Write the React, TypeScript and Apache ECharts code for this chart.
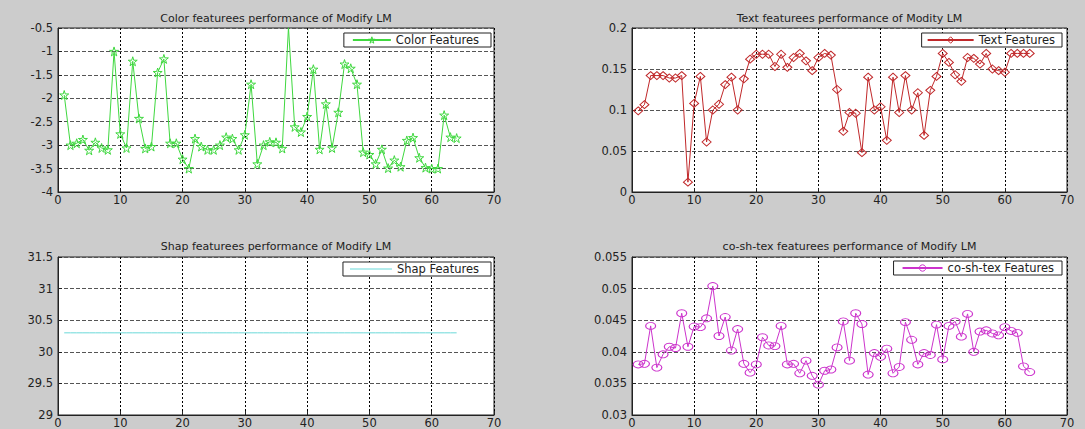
import React, { useEffect, useRef } from "react";
import * as echarts from "echarts";

const xTicks = { min: 0, max: 70, interval: 10 };

const colorFeatures = [
  -1.93, -3.0, -2.96, -2.88, -3.11, -2.94, -3.06, -3.1, -1.0, -2.76,
  -3.06, -1.21, -2.43, -3.07, -3.03, -1.45, -1.16, -2.96, -2.96, -3.3,
  -3.5, -2.86, -3.03, -3.1, -3.1, -3.0, -2.83, -2.86, -3.1, -2.78,
  -1.7, -3.4, -3.0, -2.93, -2.94, -3.07, -0.49, -2.61, -2.72, -2.39,
  -1.38, -3.09, -2.12, -3.06, -2.3, -1.27, -1.36, -1.7, -3.15, -3.2,
  -3.4, -3.09, -3.49, -3.32, -3.46, -2.9, -2.84, -3.27, -3.48, -3.5,
  -3.5, -2.36, -2.83, -2.85,
];

const textFeatures = [
  0.099, 0.1065, 0.142, 0.142, 0.142, 0.139, 0.139, 0.142, 0.012, 0.108,
  0.141, 0.061, 0.1, 0.107, 0.131, 0.14, 0.1, 0.138, 0.162, 0.168,
  0.168, 0.168, 0.153, 0.168, 0.152, 0.164, 0.169, 0.16, 0.148, 0.164,
  0.169, 0.167, 0.125, 0.074, 0.097, 0.096, 0.048, 0.14, 0.1, 0.104,
  0.063, 0.14, 0.097, 0.142, 0.1, 0.121, 0.069, 0.124, 0.141, 0.169,
  0.158, 0.143, 0.135, 0.164, 0.163, 0.156, 0.169, 0.15, 0.148, 0.146,
  0.169, 0.169, 0.169, 0.169,
];

const shapFeatures = [
  30.3, 30.3, 30.3, 30.3, 30.3, 30.3, 30.3, 30.3, 30.3, 30.3,
  30.3, 30.3, 30.3, 30.3, 30.3, 30.3, 30.3, 30.3, 30.3, 30.3,
  30.3, 30.3, 30.3, 30.3, 30.3, 30.3, 30.3, 30.3, 30.3, 30.3,
  30.3, 30.3, 30.3, 30.3, 30.3, 30.3, 30.3, 30.3, 30.3, 30.3,
  30.3, 30.3, 30.3, 30.3, 30.3, 30.3, 30.3, 30.3, 30.3, 30.3,
  30.3, 30.3, 30.3, 30.3, 30.3, 30.3, 30.3, 30.3, 30.3, 30.3,
  30.3, 30.3, 30.3, 30.3,
];

const coShTexFeatures = [
  0.038, 0.0381, 0.0441, 0.0375, 0.0396, 0.0408, 0.0406, 0.0461, 0.0408, 0.044,
  0.0439, 0.0453, 0.0504, 0.0425, 0.0455, 0.0402, 0.0436, 0.0381, 0.0367, 0.038,
  0.0423, 0.041, 0.0409, 0.0441, 0.038, 0.0381, 0.0366, 0.0386, 0.0362, 0.0348,
  0.037, 0.0372, 0.0407, 0.0448, 0.0386, 0.0461, 0.0444, 0.0364, 0.0398, 0.0392,
  0.0405, 0.0366, 0.0376, 0.0447, 0.0419, 0.038, 0.0398, 0.0395, 0.0443, 0.0388,
  0.0441, 0.0448, 0.0424, 0.046, 0.04, 0.0432, 0.0434, 0.0429, 0.0426, 0.0439,
  0.0433, 0.043, 0.0377, 0.0368,
];

const titles = [
  "Color featurees performance of Modify LM",
  "Text featurees performance of Modity LM",
  "Shap featurees performance of Modify LM",
  "co-sh-tex featurees performance of Modify LM",
];
const names = ["Color Features", "Text Features", "Shap Features", "co-sh-tex Features"];
const yRanges = [
  { min: -4, max: -0.5, interval: 0.5 },
  { min: 0, max: 0.2, interval: 0.05 },
  { min: 29, max: 31.5, interval: 0.5 },
  { min: 0.03, max: 0.055, interval: 0.005 },
];

const FONT = "DejaVu Sans, Liberation Sans, Arial, sans-serif";
const STAR = "path://M50,0 L61,35 L98,35 L68,57 L79,91 L50,70 L21,91 L32,57 L2,35 L39,35 Z";

const grids = [
  { left: 58, top: 28, width: 436, height: 164 },
  { left: 632, top: 28, width: 435, height: 164 },
  { left: 58, top: 257, width: 436, height: 162 },
  { left: 632, top: 257, width: 435, height: 162 },
];

const fmt = (v: number) => String(parseFloat(v.toFixed(4)));

export default function App() {
  const ref = useRef<HTMLDivElement>(null);
  useEffect(() => {
    if (!ref.current) return;
    const chart = echarts.init(ref.current, undefined, { renderer: "svg" });
    const seriesData = [colorFeatures, textFeatures, shapFeatures, coShTexFeatures];
    const colors = ["#3fd83f", "#c0282a", "#6ad9d9", "#cc33cc"];
    const symbols = [STAR, "diamond", "none", "circle"];
    const symSizes: any[] = [9, [9, 8], 0, [10, 7]];

    const legendPos = [
      { right: 594, top: 33, itemWidth: 38, padding: [1, 12, 1, 8] },
      { right: 23, top: 33, itemWidth: 46, padding: [1, 7, 1, 5] },
      { right: 594, top: 262, itemWidth: 42, padding: [1, 12, 1, 7] },
      { right: 23, top: 261, itemWidth: 40, padding: [1, 8, 1, 8] },
    ];

    const option: any = {
      animation: false,
      backgroundColor: "#cccccc",
      grid: grids.map((g) => ({
        ...g,
        show: true,
        backgroundColor: "#ffffff",
        borderColor: "#222",
        borderWidth: 1,
        containLabel: false,
      })),
      xAxis: grids.map((_, i) => ({
        type: "value",
        gridIndex: i,
        ...xTicks,
        axisLine: { show: true, lineStyle: { color: "#222", width: 1 } },
        axisTick: { show: true, inside: true, length: 4, lineStyle: { color: "#222" } },
        axisLabel: { color: "#222", fontFamily: FONT, fontSize: 11.5, margin: 2 },
        splitLine: { show: true, lineStyle: { color: "#000", type: [2, 2], width: 1 } },
      })),
      yAxis: grids.map((_, i) => ({
        type: "value",
        gridIndex: i,
        ...yRanges[i],
        axisLine: { show: true, lineStyle: { color: "#222", width: 1 } },
        axisTick: { show: true, inside: true, length: 4, lineStyle: { color: "#222" } },
        axisLabel: { color: "#222", fontFamily: FONT, fontSize: 11.5, margin: 5, formatter: fmt },
        splitLine: { show: true, lineStyle: { color: "#555", type: [4, 2], width: 1 } },
      })),
      legend: legendPos.map((l, i) => ({
        ...l,
        data:
          i === 2
            ? [{ name: names[i], icon: "rect", itemStyle: { color: colors[i], borderWidth: 0 } }]
            : [names[i]],
        backgroundColor: "#fff",
        borderColor: "#222",
        borderWidth: 1,
        borderRadius: 0,
        itemHeight: i === 2 ? 1 : 8,
        itemStyle: { color: "rgba(255,255,255,0)", borderColor: "inherit", borderWidth: 1 },
        textStyle: { color: "#222", fontFamily: FONT, fontSize: 11.5 },
      })),
      series: seriesData.map((vals, i) => ({
        name: names[i],
        type: "line",
        xAxisIndex: i,
        yAxisIndex: i,
        data: vals.map((v, k) => [k + 1, v]),
        symbol: symbols[i],
        symbolSize: symSizes[i],
        showSymbol: symbols[i] !== "none",
        lineStyle: { color: colors[i], width: 1 },
        itemStyle: { color: "rgba(255,255,255,0)", borderColor: colors[i], borderWidth: 1 },
        emphasis: { disabled: true },
      })),
      graphic: titles.map((t, i) => ({
        type: "text",
        x: grids[i].left + grids[i].width / 2,
        y: i < 2 ? 18 : 246,
        style: {
          text: t,
          textAlign: "center",
          textVerticalAlign: "middle",
          fill: "#222",
          font: `11px ${FONT}`,
        },
      })),
    };
    chart.setOption(option);
    return () => chart.dispose();
  }, []);
  return (
    <div
      ref={ref}
      style={{ position: "fixed", left: 0, top: 0, width: 1085, height: 429 }}
    />
  );
}
